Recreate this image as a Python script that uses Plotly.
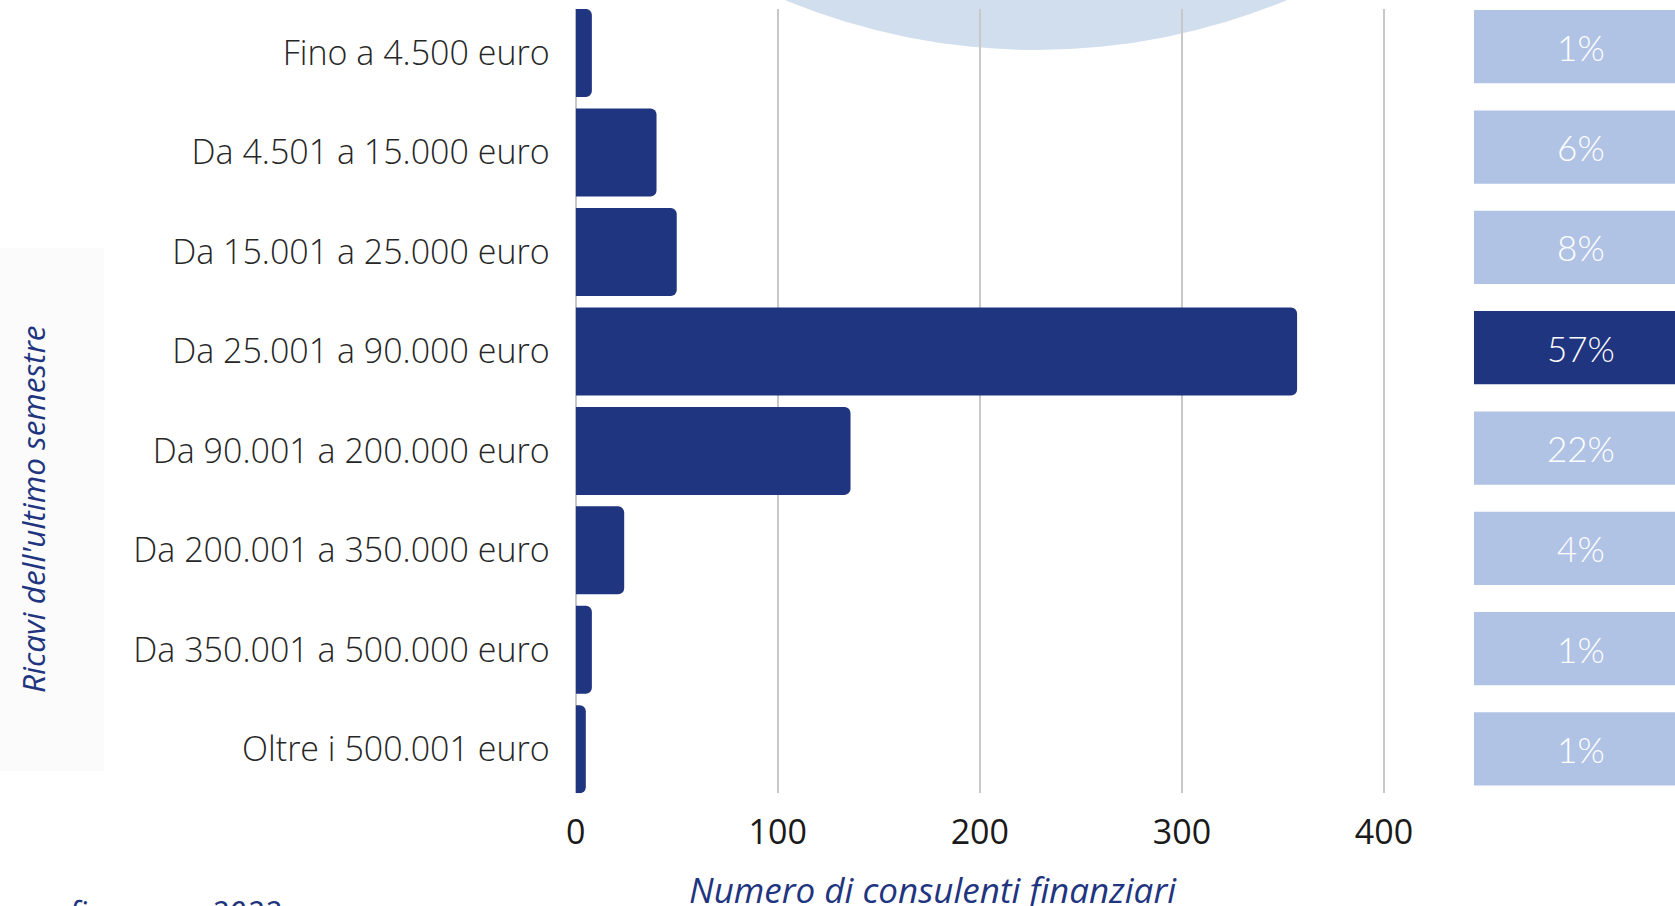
import plotly.graph_objects as go

W, H = 1675, 906

# data
categories = [
    "Fino a 4.500 euro",
    "Da 4.501 a 15.000 euro",
    "Da 15.001 a 25.000 euro",
    "Da 25.001 a 90.000 euro",
    "Da 90.001 a 200.000 euro",
    "Da 200.001 a 350.000 euro",
    "Da 350.001 a 500.000 euro",
    "Oltre i 500.001 euro",
]
counts = [8, 40, 50, 357, 136, 24, 8, 5]
shares = [1, 6, 8, 57, 22, 4, 1, 1]
x_ticks = [0, 100, 200, 300, 400]

NAVY = "#1f3580"
LIGHT = "#b1c3e5"
CIRCLE = "#d1deee"


def px_x(p):
    return p / W


def px_y(p):
    return 1 - p / H


fig = go.Figure()

fig.add_trace(go.Bar(
    y=categories, x=counts, orientation="h",
    marker=dict(color=NAVY, cornerradius=6, line=dict(width=0)),
    xaxis="x", yaxis="y", hoverinfo="x+y",
))

# share boxes on the right
box_colors = [NAVY if s == max(shares) else LIGHT for s in shares]
fig.add_trace(go.Bar(
    y=categories, x=[1] * len(shares), orientation="h", width=0.73,
    marker=dict(color=box_colors, line=dict(width=0)),
    text=[f"{s}%" for s in shares],
    textposition="inside", insidetextanchor="middle",
    textfont=dict(family="Lato", size=35, color="#ffffff", weight=300),
    xaxis="x2", yaxis="y2", hoverinfo="skip",
))

fig.update_layout(
    width=W, height=H, autosize=False,
    margin=dict(l=0, r=0, t=0, b=0, pad=0, autoexpand=False),
    paper_bgcolor="white", plot_bgcolor="rgba(0,0,0,0)",
    showlegend=False,
    bargap=0.1155,
    xaxis=dict(
        domain=[px_x(575.7), px_x(575.7 + 405 * 2.0207)],
        range=[0, 405], tickvals=x_ticks, automargin=False,
        showgrid=True, gridcolor="#c8c8c8", gridwidth=2,
        zeroline=True, zerolinecolor="#c8c8c8", zerolinewidth=2,
        showline=False, ticks="",
        tickfont=dict(family="Liberation Sans Narrow, Open Sans", size=34, color="#1a1a1a"),
        ticklabelstandoff=16,
    ),
    yaxis=dict(
        domain=[px_y(793.3), px_y(9)],
        range=[7.442, -0.442], automargin=False,
        showgrid=False, zeroline=False, showline=False, ticks="",
        tickfont=dict(family="Open Sans", size=34, color="#262626", weight=300),
        ticklabelstandoff=25,
    ),
    xaxis2=dict(
        domain=[px_x(1474), 1], range=[0, 0.94], anchor="y2",
        visible=False, fixedrange=True, automargin=False,
    ),
    yaxis2=dict(
        domain=[px_y(789.1), px_y(6.6)], range=[7.4, -0.4], anchor="x2",
        visible=False, fixedrange=True, automargin=False,
    ),
    shapes=[
        dict(type="circle", xref="paper", yref="paper", layer="below",
             x0=px_x(1036 - 655), x1=px_x(1036 + 655),
             y0=px_y(50), y1=px_y(50 - 2 * 655),
             fillcolor=CIRCLE, line=dict(width=0)),
        dict(type="rect", xref="paper", yref="paper", layer="below",
             x0=0, x1=px_x(104), y0=px_y(771), y1=px_y(248),
             fillcolor="#fbfbfb", line=dict(width=0)),
    ],
    annotations=[
        dict(text="<i>Ricavi dell'ultimo semestre</i>", xref="paper", yref="paper",
             x=px_x(32), y=px_y(509), textangle=-90, showarrow=False,
             xanchor="center", yanchor="middle",
             font=dict(family="Liberation Sans Narrow, Open Sans", size=31.5, color=NAVY)),
        dict(text="<i>Numero di consulenti finanziari</i>", xref="paper", yref="paper",
             x=px_x(933), y=px_y(889), showarrow=False,
             xanchor="center", yanchor="middle",
             font=dict(family="Liberation Sans Narrow, Open Sans", size=35, color=NAVY)),
        dict(text="<i>a fine anno 2022</i>", xref="paper", yref="paper",
             x=px_x(40), y=px_y(889), showarrow=False,
             xanchor="left", yanchor="top",
             font=dict(family="Liberation Sans Narrow, Open Sans", size=32, color=NAVY)),
    ],
)

fig.write_html(
    "out.html",
    config={"displayModeBar": False},
    post_script="document.body.style.margin='0px';document.body.style.overflow='hidden';",
)
